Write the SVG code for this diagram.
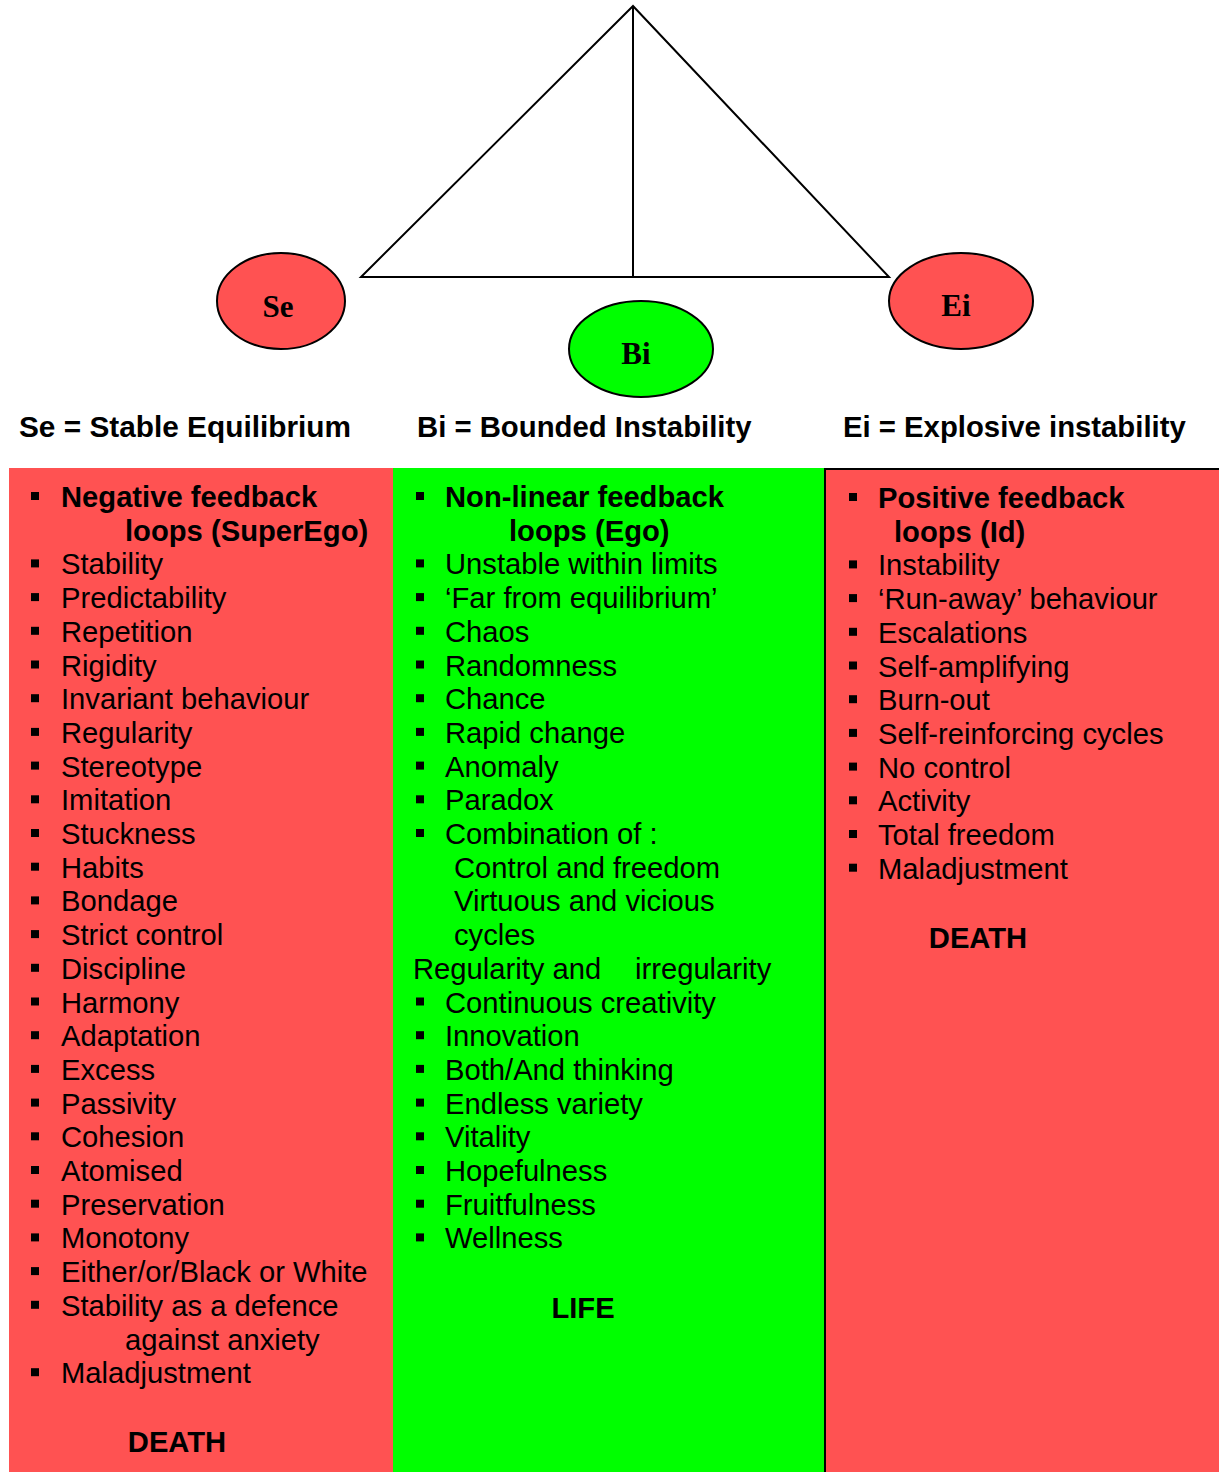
<svg xmlns="http://www.w3.org/2000/svg" width="1219" height="1472" viewBox="0 0 1219 1472">
<style>
.t{font-family:"Liberation Sans",Arial,sans-serif;font-size:29.2px;fill:#000}
.b{font-weight:bold}
.lbl{font-family:"Liberation Sans",Arial,sans-serif;font-size:29.3px;font-weight:bold;fill:#000}
.nt{font-family:"Liberation Serif","Times New Roman",serif;font-size:31px;font-weight:bold;fill:#000;text-anchor:middle}
.red{fill:#FF5252}
.grn{fill:#00FF00}
.node{stroke:#000;stroke-width:2}
</style>
<defs>
<rect id="bl" width="8" height="8" fill="#000"/>
</defs>
<rect width="1219" height="1472" fill="#fff"/>

<g id="connectors" fill="none" stroke="#000" stroke-width="2">
<polygon points="633,6 361,277 889,277"/>
<line x1="633" y1="6" x2="633" y2="277"/>
</g>

<g id="node-se">
<ellipse class="red node" cx="281" cy="301" rx="64" ry="48"/>
<text class="nt" x="278" y="317">Se</text>
</g>
<g id="node-bi">
<ellipse class="grn node" cx="641" cy="349" rx="72" ry="48"/>
<text class="nt" x="636" y="364">Bi</text>
</g>
<g id="node-ei">
<ellipse class="red node" cx="961" cy="301" rx="72" ry="48"/>
<text class="nt" x="956" y="316">Ei</text>
</g>

<g id="labels">
<text class="lbl" x="19" y="437" style="font-size:29.8px">Se = Stable Equilibrium</text>
<text class="lbl" x="417" y="437">Bi = Bounded Instability</text>
<text class="lbl" x="843" y="437">Ei = Explosive instability</text>
</g>

<g id="panel-se">
<rect class="red" x="9" y="468" width="385" height="1004"/>
<g transform="translate(0,1)">
<g>
<use href="#bl" x="31" y="491"/>
<use href="#bl" x="31" y="558.4"/>
<use href="#bl" x="31" y="592.1"/>
<use href="#bl" x="31" y="625.8"/>
<use href="#bl" x="31" y="659.5"/>
<use href="#bl" x="31" y="693.2"/>
<use href="#bl" x="31" y="726.9"/>
<use href="#bl" x="31" y="760.6"/>
<use href="#bl" x="31" y="794.3"/>
<use href="#bl" x="31" y="828"/>
<use href="#bl" x="31" y="861.7"/>
<use href="#bl" x="31" y="895.4"/>
<use href="#bl" x="31" y="929.1"/>
<use href="#bl" x="31" y="962.8"/>
<use href="#bl" x="31" y="996.5"/>
<use href="#bl" x="31" y="1030.2"/>
<use href="#bl" x="31" y="1063.9"/>
<use href="#bl" x="31" y="1097.6"/>
<use href="#bl" x="31" y="1131.3"/>
<use href="#bl" x="31" y="1165"/>
<use href="#bl" x="31" y="1198.7"/>
<use href="#bl" x="31" y="1232.4"/>
<use href="#bl" x="31" y="1266.1"/>
<use href="#bl" x="31" y="1299.8"/>
<use href="#bl" x="31" y="1367.2"/>
</g>
<text class="t b" x="61" y="506">Negative feedback</text>
<text class="t b" x="125" y="539.7">loops (SuperEgo)</text>
<text class="t" x="61" y="573.4">Stability</text>
<text class="t" x="61" y="607.1">Predictability</text>
<text class="t" x="61" y="640.8">Repetition</text>
<text class="t" x="61" y="674.5">Rigidity</text>
<text class="t" x="61" y="708.2">Invariant behaviour</text>
<text class="t" x="61" y="741.9">Regularity</text>
<text class="t" x="61" y="775.6">Stereotype</text>
<text class="t" x="61" y="809.3">Imitation</text>
<text class="t" x="61" y="843">Stuckness</text>
<text class="t" x="61" y="876.7">Habits</text>
<text class="t" x="61" y="910.4">Bondage</text>
<text class="t" x="61" y="944.1">Strict control</text>
<text class="t" x="61" y="977.8">Discipline</text>
<text class="t" x="61" y="1011.5">Harmony</text>
<text class="t" x="61" y="1045.2">Adaptation</text>
<text class="t" x="61" y="1078.9">Excess</text>
<text class="t" x="61" y="1112.6">Passivity</text>
<text class="t" x="61" y="1146.3">Cohesion</text>
<text class="t" x="61" y="1180">Atomised</text>
<text class="t" x="61" y="1213.7">Preservation</text>
<text class="t" x="61" y="1247.4">Monotony</text>
<text class="t" x="61" y="1281.1">Either/or/Black or White</text>
<text class="t" x="61" y="1314.8">Stability as a defence</text>
<text class="t" x="125" y="1348.5">against anxiety</text>
<text class="t" x="61" y="1382.2">Maladjustment</text>
<text class="t b" x="177" y="1451" text-anchor="middle">DEATH</text>
</g>
</g>

<g id="panel-bi">
<rect class="grn" x="393" y="468" width="432" height="1004"/>
<g transform="translate(0,1)">
<g>
<use href="#bl" x="416" y="491"/>
<use href="#bl" x="416" y="558.4"/>
<use href="#bl" x="416" y="592.1"/>
<use href="#bl" x="416" y="625.8"/>
<use href="#bl" x="416" y="659.5"/>
<use href="#bl" x="416" y="693.2"/>
<use href="#bl" x="416" y="726.9"/>
<use href="#bl" x="416" y="760.6"/>
<use href="#bl" x="416" y="794.3"/>
<use href="#bl" x="416" y="828"/>
<use href="#bl" x="416" y="996.5"/>
<use href="#bl" x="416" y="1030.2"/>
<use href="#bl" x="416" y="1063.9"/>
<use href="#bl" x="416" y="1097.6"/>
<use href="#bl" x="416" y="1131.3"/>
<use href="#bl" x="416" y="1165"/>
<use href="#bl" x="416" y="1198.7"/>
<use href="#bl" x="416" y="1232.4"/>
</g>
<text class="t b" x="445" y="506">Non-linear feedback</text>
<text class="t b" x="509" y="539.7">loops (Ego)</text>
<text class="t" x="445" y="573.4">Unstable within limits</text>
<text class="t" x="445" y="607.1">‘Far from equilibrium’</text>
<text class="t" x="445" y="640.8">Chaos</text>
<text class="t" x="445" y="674.5">Randomness</text>
<text class="t" x="445" y="708.2">Chance</text>
<text class="t" x="445" y="741.9">Rapid change</text>
<text class="t" x="445" y="775.6">Anomaly</text>
<text class="t" x="445" y="809.3">Paradox</text>
<text class="t" x="445" y="843">Combination of :</text>
<text class="t" x="454" y="876.7">Control and freedom</text>
<text class="t" x="454" y="910.4">Virtuous and vicious</text>
<text class="t" x="454" y="944.1">cycles</text>
<text class="t" y="977.8"><tspan x="413">Regularity and</tspan><tspan x="635">irregularity</tspan></text>
<text class="t" x="445" y="1011.5">Continuous creativity</text>
<text class="t" x="445" y="1045.2">Innovation</text>
<text class="t" x="445" y="1078.9">Both/And thinking</text>
<text class="t" x="445" y="1112.6">Endless variety</text>
<text class="t" x="445" y="1146.3">Vitality</text>
<text class="t" x="445" y="1180">Hopefulness</text>
<text class="t" x="445" y="1213.7">Fruitfulness</text>
<text class="t" x="445" y="1247.4">Wellness</text>
<text class="t b" x="583" y="1317" text-anchor="middle">LIFE</text>
</g>
</g>

<g id="panel-ei">
<rect class="red" x="825" y="468" width="394" height="1004"/>
<path d="M825,1472 V469 H1219" fill="none" stroke="#000" stroke-width="2"/>
<g transform="translate(0,1)">
<g>
<use href="#bl" x="849" y="492"/>
<use href="#bl" x="849" y="559.4"/>
<use href="#bl" x="849" y="593.1"/>
<use href="#bl" x="849" y="626.8"/>
<use href="#bl" x="849" y="660.5"/>
<use href="#bl" x="849" y="694.2"/>
<use href="#bl" x="849" y="727.9"/>
<use href="#bl" x="849" y="761.6"/>
<use href="#bl" x="849" y="795.3"/>
<use href="#bl" x="849" y="829"/>
<use href="#bl" x="849" y="862.7"/>
</g>
<text class="t b" x="878" y="507">Positive feedback</text>
<text class="t b" x="894" y="540.7">loops (Id)</text>
<text class="t" x="878" y="574.4">Instability</text>
<text class="t" x="878" y="608.1">‘Run-away’ behaviour</text>
<text class="t" x="878" y="641.8">Escalations</text>
<text class="t" x="878" y="675.5">Self-amplifying</text>
<text class="t" x="878" y="709.2">Burn-out</text>
<text class="t" x="878" y="742.9">Self-reinforcing cycles</text>
<text class="t" x="878" y="776.6">No control</text>
<text class="t" x="878" y="810.3">Activity</text>
<text class="t" x="878" y="844">Total freedom</text>
<text class="t" x="878" y="877.7">Maladjustment</text>
<text class="t b" x="978" y="947" text-anchor="middle">DEATH</text>
</g>
</g>
</svg>
